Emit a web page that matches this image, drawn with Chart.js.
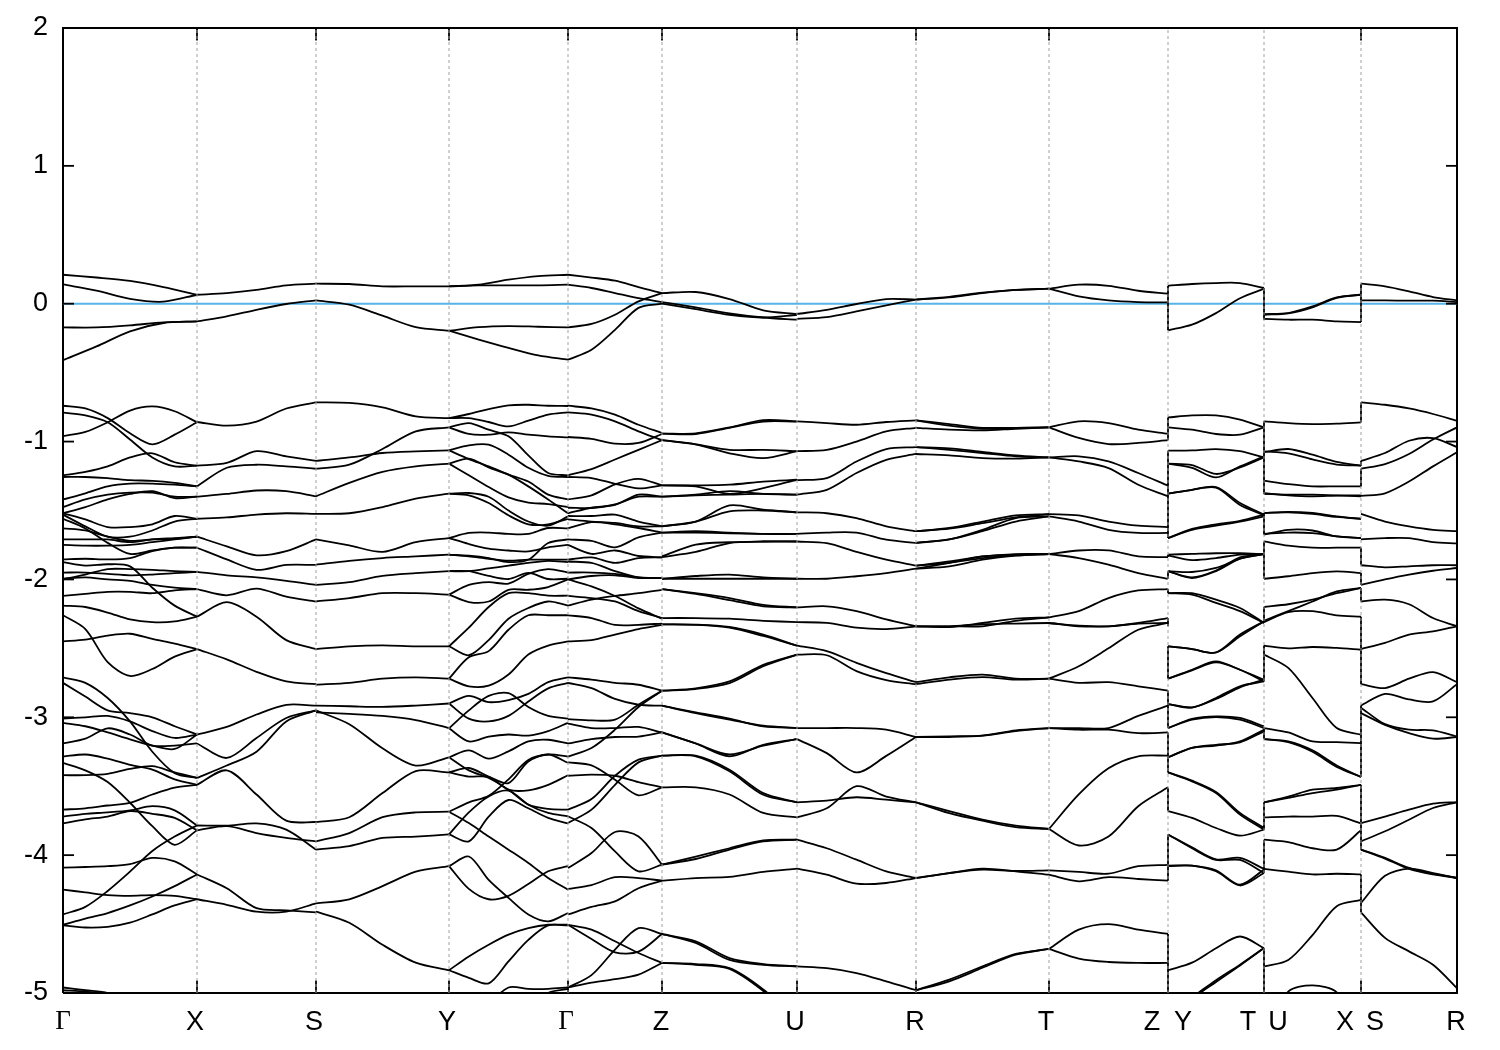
<!DOCTYPE html>
<html>
<head>
<meta charset="utf-8">
<title>band structure</title>
<script src="https://cdn.jsdelivr.net/npm/chart.js@4"></script>
<style>
  html, body { margin: 0; padding: 0; background: #fff; }
  canvas { display: block; }
</style>
</head>
<body>
<canvas id="bands" width="1500" height="1050"></canvas>
<script>
// k path: Γ X S Y Γ Z U R T Z | Y T | U X | S R
var kNodes = [0, 134, 253, 386, 505, 599, 734, 853, 986, 1105, 1201, 1298, 1394];
var tickNames = ["Γ", "X", "S", "Y", "Γ", "Z", "U", "R", "T", "Z", "Y", "T", "U", "X", "S", "R"];
var tickK = [0, 132, 251, 384, 503, 598, 732, 852, 983, 1089, 1120, 1185, 1215, 1282, 1312, 1393];
var energyTicks = [-5, -4, -3, -2, -1, 0, 1, 2];

// each row is one band, values evenly spaced along the segment (eV)
var segGX = [
  [.21,.19,.165,.12,.065],[.14,.095,.035,.015,.065],[-.172,-.172,-.157,-.135,-.128],[-.41,-.31,-.2,-.14,-.128],
  [-.74,-.76,-.83,-.94,-1.02,-.95,-.86],[-.79,-.81,-.86,-.985,-1.115,-1.18,-1.175],[-.96,-.93,-.86,-.775,-.745,-.78,-.86],
  [-1.245,-1.22,-1.18,-1.115,-1.085,-1.15,-1.175],[-1.257,-1.257,-1.265,-1.28,-1.285,-1.3,-1.325],[-1.42,-1.375,-1.325,-1.305,-1.305,-1.313,-1.325],
  [-1.475,-1.42,-1.385,-1.37,-1.37,-1.4,-1.4],[-1.52,-1.475,-1.42,-1.38,-1.36,-1.41,-1.4],[-1.52,-1.565,-1.62,-1.62,-1.6,-1.54,-1.56],
  [-1.53,-1.615,-1.69,-1.69,-1.645,-1.58,-1.56],[-1.56,-1.63,-1.735,-1.815,-1.79,-1.77,-1.77],[-1.63,-1.645,-1.69,-1.72,-1.71,-1.705,-1.69],
  [-1.71,-1.71,-1.71,-1.73,-1.71,-1.7,-1.69],[-1.75,-1.755,-1.755,-1.75,-1.73,-1.71,-1.69],[-1.855,-1.85,-1.855,-1.845,-1.795,-1.77,-1.77],
  [-1.875,-1.9,-1.89,-1.905,-2.06,-2.19,-2.27],[-1.95,-1.95,-1.96,-1.97,-1.965,-1.955,-1.945],[-2,-1.965,-1.925,-1.925,-1.93,-1.94,-1.945],
  [-1.995,-1.985,-2,-2.01,-2.04,-2.06,-2.07],[-2.12,-2.105,-2.09,-2.09,-2.1,-2.08,-2.07],[-2.19,-2.2,-2.24,-2.29,-2.31,-2.305,-2.27],
  [-2.26,-2.36,-2.6,-2.7,-2.65,-2.56,-2.505],[-2.45,-2.437,-2.408,-2.394,-2.432,-2.466,-2.505],[-2.71,-2.75,-2.86,-3.03,-3.25,-3.405,-3.44],
  [-2.75,-2.85,-2.95,-2.97,-3,-3.065,-3.125],[-3.01,-3,-2.99,-3.03,-3.1,-3.15,-3.125],[-3.04,-3.065,-3.11,-3.16,-3.205,-3.23,-3.125],
  [-3.19,-3.155,-3.08,-3.125,-3.205,-3.205,-3.19],[-3.285,-3.27,-3.3,-3.345,-3.38,-3.45,-3.49],[-3.33,-3.385,-3.47,-3.62,-3.79,-3.925,-3.82],
  [-3.42,-3.42,-3.41,-3.375,-3.355,-3.4,-3.44],[-3.67,-3.66,-3.64,-3.62,-3.56,-3.51,-3.49],[-3.72,-3.7,-3.69,-3.675,-3.645,-3.675,-3.785],
  [-3.77,-3.74,-3.72,-3.68,-3.7,-3.73,-3.82],[-4.43,-4.375,-4.26,-4.12,-3.97,-3.865,-3.785],[-4.09,-4.086,-4.08,-4.065,-4.02,-4.045,-4.14],
  [-4.25,-4.27,-4.29,-4.295,-4.29,-4.295,-4.32],[-4.505,-4.46,-4.42,-4.365,-4.3,-4.225,-4.14],[-4.51,-4.525,-4.52,-4.49,-4.43,-4.365,-4.32],
  [-4.96,-4.98,-5,-5.1,-5.3,-5.4,-5.5],[-4.98,-4.99,-5.02,-5.2,-5.4,-5.5,-5.5]
];
var segXS = [
  [.065,.077,.1,.133,.145],[-.128,-.092,-.044,-.002,.024],[-.858,-.885,-.855,-.76,-.715],[-1.175,-1.155,-1.07,-1.107,-1.14],
  [-1.325,-1.19,-1.168,-1.18,-1.197],[-1.4,-1.38,-1.355,-1.36,-1.397],[-1.56,-1.55,-1.53,-1.52,-1.525],[-1.69,-1.76,-1.825,-1.795,-1.71],
  [-1.77,-1.855,-1.93,-1.895,-1.895],[-1.945,-1.97,-1.985,-2.01,-2.04],[-2.07,-2.115,-2.067,-2.125,-2.16],[-2.27,-2.165,-2.27,-2.44,-2.505],
  [-2.505,-2.58,-2.67,-2.74,-2.76],[-3.125,-3.07,-2.98,-2.91,-2.915],[-3.19,-3.295,-3.15,-3.005,-2.95],[-3.44,-3.35,-3.25,-3.03,-2.95],
  [-3.49,-3.385,-3.56,-3.75,-3.76],[-3.82,-3.79,-3.84,-3.875,-3.9],[-3.785,-3.786,-3.77,-3.815,-3.96],[-4.14,-4.24,-4.385,-4.4,-4.415],
  [-4.32,-4.36,-4.41,-4.41,-4.35]
];
var segSY = [
  [.145,.143,.126,.126,.126],[.024,-.007,-.087,-.17,-.196],[-.715,-.72,-.752,-.817,-.83],[-1.14,-1.115,-1.083,-1.071,-1.064],
  [-1.197,-1.168,-1.054,-.926,-.897],[-1.397,-1.3,-1.22,-1.18,-1.16],[-1.525,-1.52,-1.475,-1.414,-1.378],[-1.71,-1.753,-1.8,-1.73,-1.7],
  [-1.893,-1.865,-1.845,-1.833,-1.82],[-2.04,-2.02,-1.975,-1.955,-1.94],[-2.16,-2.135,-2.1,-2.1,-2.11],[-2.505,-2.485,-2.478,-2.485,-2.485],
  [-2.763,-2.75,-2.72,-2.71,-2.72],[-2.915,-2.92,-2.925,-2.915,-2.9],[-2.95,-3.05,-3.225,-3.35,-3.29],[-2.965,-2.975,-2.99,-3.02,-3.078],
  [-3.76,-3.725,-3.55,-3.39,-3.4],[-3.9,-3.84,-3.725,-3.69,-3.685],[-3.96,-3.935,-3.875,-3.865,-3.85],[-4.35,-4.32,-4.225,-4.12,-4.08],
  [-4.41,-4.49,-4.65,-4.78,-4.835]
];
var segYG = [
  [.126,.138,.174,.2,.21],[.126,.133,.133,.133,.138],[-.196,-.17,-.162,-.167,-.172],[-.196,-.26,-.32,-.375,-.406],
  [-.83,-.8,-.764,-.737,-.733,-.74,-.742],[-.83,-.83,-.858,-.89,-.848,-.805,-.788],[-.897,-.945,-.95,-.933,-.95,-.962,-.97],
  [-.897,-.866,-.914,-.962,-1.1,-1.228,-1.245],[-1.064,-1.028,-1.023,-1.095,-1.19,-1.248,-1.257],[-1.064,-1.127,-1.18,-1.24,-1.325,-1.42,-1.52],
  [-1.16,-1.124,-1.187,-1.24,-1.29,-1.385,-1.42],[-1.16,-1.245,-1.33,-1.405,-1.443,-1.453,-1.475],[-1.378,-1.373,-1.4,-1.5,-1.58,-1.61,-1.543],
  [-1.378,-1.39,-1.446,-1.535,-1.6,-1.6,-1.56],[-1.7,-1.663,-1.66,-1.67,-1.67,-1.627,-1.63],[-1.7,-1.743,-1.777,-1.79,-1.797,-1.767,-1.75],
  [-1.82,-1.828,-1.845,-1.874,-1.857,-1.736,-1.71],[-1.82,-1.833,-1.85,-1.864,-1.857,-1.857,-1.857],[-1.94,-1.94,-1.975,-1.997,-1.953,-1.997,-1.995],
  [-1.94,-1.94,-1.92,-1.9,-1.88,-1.865,-1.875],[-2.11,-2.04,-2.02,-2.03,-1.96,-1.925,-1.95],[-2.11,-2.164,-2.16,-2.075,-2.075,-2.055,-2],
  [-2.485,-2.35,-2.2,-2.1,-2.1,-2.118,-2.118],[-2.485,-2.55,-2.44,-2.285,-2.207,-2.16,-2.19],[-2.72,-2.565,-2.52,-2.365,-2.26,-2.26,-2.26],
  [-2.72,-2.775,-2.77,-2.69,-2.545,-2.48,-2.45],[-2.9,-2.845,-2.89,-2.875,-2.83,-2.745,-2.71],[-2.9,-3.01,-3.03,-2.99,-2.885,-2.79,-2.75],
  [-3.08,-2.95,-2.845,-2.825,-2.925,-2.99,-3.01],[-3.08,-3.175,-3.14,-3.125,-3.133,-3.1,-3.04],[-3.29,-3.24,-3.3,-3.247,-3.175,-3.163,-3.19],
  [-3.29,-3.385,-3.44,-3.525,-3.633,-3.665,-3.67],[-3.4,-3.368,-3.43,-3.477,-3.32,-3.27,-3.33],[-3.4,-3.43,-3.433,-3.525,-3.53,-3.49,-3.42],
  [-3.685,-3.617,-3.57,-3.45,-3.31,-3.27,-3.285],[-3.685,-3.767,-3.865,-3.96,-4.057,-4.165,-4.25],[-3.85,-3.69,-3.574,-3.532,-3.634,-3.694,-3.718],
  [-3.85,-3.9,-3.72,-3.6,-3.66,-3.73,-3.77],[-4.08,-4.01,-4.18,-4.31,-4.43,-4.48,-4.42],[-4.08,-4.245,-4.32,-4.295,-4.21,-4.117,-4.08],
  [-4.835,-4.735,-4.65,-4.577,-4.53,-4.505,-4.505],[-4.835,-4.89,-4.93,-4.77,-4.615,-4.51,-4.51],[-5.5,-5.5,-5.1,-4.96,-4.97,-4.97,-4.96],
  [-5.5,-5.5,-5.4,-5.3,-5.15,-5,-4.97]
];
var segGZ = [
  [.21,.19,.167,.12,.077],[.138,.114,.077,.04,.012],[-.172,-.147,-.08,.017,.077],[-.406,-.334,-.19,-.03,0],
  [-.74,-.76,-.805,-.878,-.938],[-.788,-.805,-.853,-.926,-.99],[-.967,-.98,-1.015,-1.01,-.945],[-1.245,-1.2,-1.13,-1.06,-.99],
  [-1.257,-1.265,-1.306,-1.34,-1.318],[-1.42,-1.39,-1.31,-1.27,-1.318],[-1.48,-1.482,-1.455,-1.4,-1.4],[-1.52,-1.48,-1.46,-1.385,-1.4],
  [-1.54,-1.54,-1.53,-1.58,-1.615],[-1.565,-1.58,-1.59,-1.615,-1.615],[-1.63,-1.585,-1.6,-1.627,-1.66],[-1.71,-1.72,-1.767,-1.695,-1.66],
  [-1.75,-1.815,-1.79,-1.83,-1.84],[-1.857,-1.84,-1.88,-1.845,-1.84],[-1.87,-1.88,-1.94,-1.985,-1.99],[-1.95,-1.95,-1.96,-1.985,-1.99],
  [-2,-1.975,-1.97,-1.99,-1.99],[-2,-2.05,-2.12,-2.21,-2.285],[-2.12,-2.135,-2.16,-2.23,-2.28],[-2.19,-2.147,-2.12,-2.1,-2.075],
  [-2.26,-2.28,-2.33,-2.33,-2.32],[-2.45,-2.44,-2.4,-2.36,-2.33],[-2.71,-2.727,-2.75,-2.764,-2.807],[-2.75,-2.788,-2.867,-2.909,-2.916],
  [-3.013,-3.022,-3.017,-2.909,-2.807],[-3.046,-3.078,-3.078,-3.07,-3.11],[-3.285,-3.223,-3.09,-2.925,-2.807],[-3.19,-3.158,-3.143,-3.14,-3.11],
  [-3.327,-3.349,-3.453,-3.566,-3.508],[-3.424,-3.416,-3.424,-3.47,-3.508],[-3.67,-3.593,-3.424,-3.307,-3.278],[-3.767,-3.67,-3.49,-3.327,-3.278],
  [-3.718,-3.803,-3.973,-4.117,-4.069],[-4.094,-3.985,-3.832,-3.864,-4.069],[-4.245,-4.217,-4.16,-4.166,-4.185],[-4.43,-4.376,-4.335,-4.24,-4.185],
  [-4.505,-4.608,-4.705,-4.7,-4.572],[-4.505,-4.54,-4.625,-4.71,-4.782],[-4.96,-4.87,-4.685,-4.53,-4.572],[-4.96,-4.925,-4.9,-4.867,-4.782]
];
var segZU = [
  [.077,.085,.034,-.048,-.075],[.012,-.027,-.07,-.1,-.116],[0,-.04,-.08,-.1,-.08],[-.943,-.945,-.9,-.855,-.855],[-.943,-.94,-.897,-.845,-.853],
  [-.99,-1.02,-1.085,-1.12,-1.07],[-.99,-1.02,-1.06,-1.06,-1.07],[-1.318,-1.318,-1.313,-1.29,-1.277],[-1.318,-1.325,-1.38,-1.338,-1.277],
  [-1.4,-1.39,-1.385,-1.38,-1.385],[-1.4,-1.385,-1.36,-1.38,-1.385],[-1.615,-1.58,-1.463,-1.494,-1.513],[-1.615,-1.58,-1.506,-1.5,-1.513],
  [-1.66,-1.65,-1.66,-1.67,-1.67],[-1.66,-1.66,-1.665,-1.67,-1.67],[-1.833,-1.748,-1.73,-1.725,-1.725],[-1.838,-1.8,-1.736,-1.725,-1.725],
  [-1.995,-1.975,-1.965,-1.985,-1.995],[-1.995,-1.995,-1.995,-1.995,-1.995],[-2.07,-2.1,-2.135,-2.185,-2.203],[-2.07,-2.105,-2.15,-2.195,-2.203],
  [-2.28,-2.28,-2.285,-2.3,-2.31],[-2.326,-2.328,-2.345,-2.4,-2.48],[-2.326,-2.33,-2.35,-2.41,-2.48],[-2.807,-2.79,-2.74,-2.62,-2.545],
  [-2.807,-2.795,-2.752,-2.63,-2.545],[-2.916,-2.964,-3.01,-3.066,-3.078],[-2.916,-2.97,-3.017,-3.061,-3.078],[-3.11,-3.19,-3.283,-3.2,-3.158],
  [-3.11,-3.19,-3.27,-3.206,-3.158],[-3.278,-3.278,-3.38,-3.55,-3.617],[-3.278,-3.283,-3.392,-3.562,-3.617],[-3.508,-3.508,-3.56,-3.694,-3.726],
  [-4.069,-4.01,-3.95,-3.893,-3.888],[-4.069,-4.028,-3.96,-3.9,-3.888],[-4.185,-4.166,-4.158,-4.122,-4.098],[-4.572,-4.625,-4.747,-4.79,-4.807],
  [-4.572,-4.637,-4.76,-4.795,-4.807],[-4.782,-4.79,-4.82,-4.975,-5.2],[-4.782,-4.795,-4.825,-4.985,-5.2]
];
var segUR = [
  [-.075,-.044,-.002,.034,.03],[-.11,-.097,-.056,-.012,.03],[-.853,-.866,-.878,-.858,-.846],[-1.07,-1.06,-1,-.926,-.9],[-1.28,-1.265,-1.145,-1.054,-1.04],
  [-1.385,-1.35,-1.228,-1.132,-1.09],[-1.513,-1.52,-1.555,-1.615,-1.65],[-1.67,-1.66,-1.66,-1.712,-1.735],[-1.725,-1.737,-1.8,-1.857,-1.9],
  [-1.995,-1.995,-1.977,-1.954,-1.922],[-2.203,-2.195,-2.23,-2.29,-2.34],[-2.31,-2.315,-2.35,-2.36,-2.34],[-2.48,-2.52,-2.605,-2.68,-2.745],
  [-2.545,-2.55,-2.665,-2.73,-2.76],[-3.078,-3.078,-3.078,-3.09,-3.143],[-3.158,-3.26,-3.4,-3.28,-3.143],[-3.617,-3.605,-3.58,-3.598,-3.617],
  [-3.726,-3.66,-3.5,-3.575,-3.617],[-3.888,-3.95,-4.033,-4.118,-4.166],[-4.098,-4.142,-4.207,-4.202,-4.166],[-4.807,-4.82,-4.855,-4.915,-4.98]
];
var segRT = [
  [.03,.046,.077,.1,.109],[.03,.05,.08,.1,.109],[-.846,-.873,-.9,-.9,-.897],[-.9,-.914,-.919,-.907,-.897],[-.846,-.885,-.907,-.9,-.897],
  [-1.04,-1.05,-1.075,-1.1,-1.115],[-1.09,-1.1,-1.12,-1.124,-1.115],[-1.04,-1.06,-1.083,-1.107,-1.115],[-1.65,-1.627,-1.58,-1.535,-1.526],
  [-1.65,-1.632,-1.592,-1.55,-1.526],[-1.735,-1.71,-1.65,-1.58,-1.543],[-1.735,-1.71,-1.64,-1.555,-1.543],[-1.9,-1.88,-1.845,-1.825,-1.816],
  [-1.922,-1.88,-1.833,-1.82,-1.816],[-1.9,-1.87,-1.833,-1.816,-1.816],[-1.922,-1.905,-1.857,-1.828,-1.816],[-2.34,-2.34,-2.34,-2.3,-2.275],
  [-2.34,-2.345,-2.316,-2.285,-2.275],[-2.34,-2.34,-2.325,-2.32,-2.316],[-2.745,-2.71,-2.69,-2.72,-2.72],[-2.76,-2.727,-2.708,-2.727,-2.72],
  [-3.143,-3.138,-3.133,-3.1,-3.078],[-3.143,-3.143,-3.133,-3.095,-3.078],[-3.617,-3.68,-3.742,-3.786,-3.81],[-3.617,-3.695,-3.75,-3.796,-3.81],
  [-4.166,-4.13,-4.098,-4.117,-4.142],[-4.166,-4.13,-4.105,-4.115,-4.11],[-4.98,-4.903,-4.807,-4.717,-4.68],[-4.98,-4.915,-4.817,-4.722,-4.68]
];
var segTZ = [
  [.109,.138,.13,.094,.073],[.109,.053,.024,.012,.01],[-.897,-.853,-.866,-.914,-.943],[-.897,-.974,-1.018,-1.01,-.99],[-1.115,-1.107,-1.144,-1.228,-1.32],
  [-1.115,-1.144,-1.192,-1.313,-1.397],[-1.526,-1.535,-1.58,-1.61,-1.62],[-1.543,-1.58,-1.64,-1.663,-1.663],[-1.816,-1.79,-1.79,-1.833,-1.838],
  [-1.816,-1.845,-1.893,-1.954,-1.995],[-2.275,-2.23,-2.135,-2.08,-2.07],[-2.316,-2.34,-2.34,-2.316,-2.28],[-2.316,-2.335,-2.34,-2.32,-2.316],
  [-2.72,-2.63,-2.5,-2.365,-2.316],[-2.72,-2.75,-2.745,-2.775,-2.807],[-3.078,-3.09,-3.09,-3.115,-3.11],[-3.078,-3.078,-3.078,-2.99,-2.916],
  [-3.81,-3.56,-3.37,-3.283,-3.278],[-3.81,-3.93,-3.865,-3.645,-3.508],[-4.11,-4.122,-4.134,-4.08,-4.07],[-4.142,-4.19,-4.16,-4.173,-4.185],
  [-4.68,-4.54,-4.5,-4.54,-4.572],[-4.68,-4.75,-4.775,-4.782,-4.782]
];
var segYT = [
  [.13,.143,.15,.15,.114],[-.193,-.152,-.068,.04,.109],[-.825,-.81,-.81,-.84,-.897],[-.897,-.914,-.945,-.95,-.897],[-1.066,-1.064,-1.055,-1.07,-1.115],
  [-1.16,-1.19,-1.26,-1.18,-1.107],[-1.16,-1.17,-1.235,-1.188,-1.115],[-1.378,-1.35,-1.33,-1.445,-1.53],[-1.378,-1.35,-1.335,-1.46,-1.535],
  [-1.7,-1.634,-1.6,-1.575,-1.53],[-1.7,-1.64,-1.61,-1.58,-1.543],[-1.82,-1.815,-1.81,-1.81,-1.816],[-1.825,-1.86,-1.845,-1.82,-1.816],
  [-1.94,-1.946,-1.917,-1.85,-1.816],[-1.94,-1.99,-1.94,-1.85,-1.816],[-1.94,-1.985,-1.935,-1.84,-1.816],[-2.1,-2.1,-2.147,-2.207,-2.316],
  [-2.1,-2.11,-2.17,-2.23,-2.316],[-2.485,-2.505,-2.53,-2.413,-2.304],[-2.485,-2.505,-2.53,-2.4,-2.304],[-2.72,-2.655,-2.595,-2.655,-2.727],
  [-2.72,-2.66,-2.602,-2.655,-2.74],[-2.904,-2.93,-2.86,-2.775,-2.74],[-2.904,-2.928,-2.867,-2.783,-2.727],[-3.078,-3.017,-2.998,-3.017,-3.078],
  [-3.078,-3.012,-2.993,-3.005,-3.066],[-3.29,-3.222,-3.206,-3.175,-3.09],[-3.29,-3.222,-3.2,-3.182,-3.102],[-3.4,-3.465,-3.55,-3.706,-3.815],
  [-3.4,-3.46,-3.542,-3.694,-3.803],[-3.68,-3.73,-3.803,-3.859,-3.815],[-3.85,-3.95,-4.035,-4.035,-4.13],[-3.85,-3.943,-4.03,-4.02,-4.1],
  [-4.08,-4.076,-4.117,-4.22,-4.13],[-4.076,-4.076,-4.11,-4.214,-4.105],[-4.835,-4.78,-4.675,-4.59,-4.674],[-5.3,-5.04,-4.908,-4.795,-4.674],
  [-5.3,-5.05,-4.92,-4.8,-4.674]
];
var segUX = [
  [-.075,-.068,-.02,.046,.065],[-.08,-.07,-.027,.043,.065],[-.11,-.116,-.116,-.128,-.133],[-.853,-.866,-.873,-.87,-.861],
  [-1.076,-1.054,-1.095,-1.148,-1.175],[-1.071,-1.085,-1.13,-1.167,-1.175],[-1.284,-1.308,-1.325,-1.325,-1.325],[-1.38,-1.385,-1.385,-1.39,-1.397],
  [-1.375,-1.39,-1.397,-1.392,-1.39],[-1.518,-1.51,-1.518,-1.543,-1.56],[-1.518,-1.513,-1.525,-1.547,-1.56],[-1.675,-1.64,-1.645,-1.688,-1.7],
  [-1.67,-1.66,-1.664,-1.688,-1.7],[-1.724,-1.755,-1.77,-1.77,-1.77],[-1.995,-1.977,-1.954,-1.942,-1.954],[-2.2,-2.18,-2.147,-2.1,-2.062],
  [-2.3,-2.23,-2.16,-2.087,-2.062],[-2.31,-2.237,-2.23,-2.26,-2.27],[-2.48,-2.5,-2.49,-2.497,-2.51],[-2.545,-2.642,-2.86,-3.078,-3.126],
  [-3.078,-3.11,-3.175,-3.18,-3.187],[-3.158,-3.175,-3.24,-3.35,-3.433],[-3.158,-3.18,-3.25,-3.36,-3.433],[-3.617,-3.575,-3.525,-3.513,-3.49],
  [-3.617,-3.585,-3.55,-3.525,-3.49],[-3.726,-3.72,-3.72,-3.715,-3.77],[-3.888,-3.905,-3.95,-3.96,-3.82],[-4.1,-4.12,-4.14,-4.135,-4.14],
  [-4.807,-4.76,-4.58,-4.37,-4.325],[-5.3,-4.99,-4.945,-4.995,-5.3]
];
var segSR = [
  [.145,.126,.09,.048,.024],[.024,.024,.022,.022,.012],[-.715,-.733,-.76,-.8,-.85],[-1.14,-1.083,-.994,-.975,-1.04],[-1.197,-1.163,-1.09,-.985,-.897],
  [-1.394,-1.375,-1.29,-1.18,-1.078],[-1.525,-1.58,-1.615,-1.64,-1.65],[-1.71,-1.7,-1.7,-1.73,-1.738],[-1.897,-1.912,-1.905,-1.897,-1.897],
  [-2.04,-2,-1.965,-1.937,-1.917],[-2.16,-2.147,-2.18,-2.28,-2.34],[-2.505,-2.46,-2.4,-2.377,-2.34],[-2.76,-2.788,-2.72,-2.672,-2.745],
  [-2.915,-2.83,-2.87,-2.885,-2.76],[-2.93,-3.05,-3.09,-3.095,-3.14],[-2.97,-3.055,-3.115,-3.155,-3.143],[-3.767,-3.72,-3.67,-3.627,-3.615],
  [-3.9,-3.827,-3.743,-3.658,-3.617],[-3.96,-4.02,-4.093,-4.134,-4.166],[-3.96,-4.025,-4.1,-4.14,-4.166],[-4.347,-4.15,-4.098,-4.13,-4.166],
  [-4.415,-4.6,-4.698,-4.795,-4.965]
];
var segments = [segGX, segXS, segSY, segYG, segGZ, segZU, segUR, segRT, segTZ, segYT, segUX, segSR];

// vertical jumps where the path is cut
var jumpZY = [[.13,-.193],[-.825,-.99],[-1.066,-1.7],[-1.82,-1.838],[-1.94,-1.995],[-2.07,-2.1],[-2.28,-2.34],[-2.485,-2.72],[-2.805,-3.078],[-3.11,-3.4],[-3.513,-3.68],[-3.85,-4.185],[-4.572,-5]];
var jumpTU = [[.114,-.116],[-.853,-1.38],[-1.518,-1.675],[-1.724,-1.995],[-2.2,-2.31],[-2.48,-2.74],[-3.078,-3.158],[-3.617,-3.815],[-3.888,-4.13],[-4.674,-5]];
var jumpXS = [[.145,-.133],[-.715,-.861],[-1.14,-1.175],[-1.197,-1.325],[-1.77,-1.897],[-1.954,-2.04],[-2.062,-2.16],[-2.27,-2.76],[-2.915,-3.433],[-3.49,-3.96],[-4.14,-4.415]];

var datasets = [];

function addLine(points, style) {
  datasets.push(Object.assign({
    data: points, showLine: true, pointRadius: 0, borderColor: "#000", borderWidth: 1.8, tension: 0
  }, style));
}

// dashed verticals and inward ticks
kNodes.forEach(function (k) {
  if (k > 0 && k < 1394) {
    addLine([{x: k, y: -5}, {x: k, y: 2}], {borderColor: "#a0a0a0", borderWidth: 1, borderDash: [3, 3]});
    if (k !== 1105 && k !== 1201) {
      addLine([{x: k, y: -5}, {x: k, y: -4.91}], {});
      addLine([{x: k, y: 2}, {x: k, y: 1.91}], {});
    }
  }
});
energyTicks.forEach(function (e) {
  addLine([{x: 0, y: e}, {x: 11, y: e}], {});
  addLine([{x: 1394, y: e}, {x: 1383, y: e}], {});
});

// bands
segments.forEach(function (seg, i) {
  var start = kNodes[i], end = kNodes[i + 1];
  seg.forEach(function (row) {
    addLine(row.map(function (e, j) {
      return {x: start + j * (end - start) / (row.length - 1), y: e};
    }), {tension: 0.3});
  });
});

[[1105, jumpZY], [1201, jumpTU], [1298, jumpXS]].forEach(function (cut) {
  cut[1].forEach(function (pair) {
    addLine([{x: cut[0], y: pair[0]}, {x: cut[0], y: pair[1]}], {});
  });
});

// Fermi level
addLine([{x: 0, y: 0}, {x: 1394, y: 0}], {borderColor: "#56b4e9", borderWidth: 2});
// frame
addLine([{x: 0, y: -5}, {x: 1394, y: -5}, {x: 1394, y: 2}, {x: 0, y: 2}, {x: 0, y: -5}], {borderWidth: 2, clip: false});

new Chart(document.getElementById("bands"), {
  type: "scatter",
  data: {datasets: datasets},
  options: {
    responsive: false,
    animation: false,
    layout: {padding: {top: 28, right: 43, left: 0, bottom: 0}},
    plugins: {legend: {display: false}, tooltip: {enabled: false}},
    scales: {
      x: {
        type: "linear", min: 0, max: 1394,
        grid: {display: false}, border: {display: false},
        afterBuildTicks: function (s) { s.ticks = tickK.map(function (v) { return {value: v}; }); },
        afterFit: function (s) { s.height = 57; s.paddingLeft = 0; s.paddingRight = 0; },
        ticks: {
          autoSkip: false, maxRotation: 0, minRotation: 0, padding: 5, color: "#000",
          font: function (ctx) {
            return tickNames[ctx.index] === "Γ"
              ? {family: "Liberation Serif", size: 27}
              : {family: "'Liberation Sans Narrow', 'Liberation Sans'", size: 27};
          },
          callback: function (v, i) { return tickNames[i]; }
        }
      },
      y: {
        type: "linear", min: -5, max: 2,
        grid: {display: false}, border: {display: false},
        afterBuildTicks: function (s) { s.ticks = energyTicks.map(function (v) { return {value: v}; }); },
        afterFit: function (s) { s.width = 63; s.paddingTop = 0; s.paddingBottom = 0; },
        ticks: {padding: 7, color: "#000", font: {family: "'Liberation Sans Narrow', 'Liberation Sans'", size: 27}}
      }
    }
  }
});
</script>
</body>
</html>
